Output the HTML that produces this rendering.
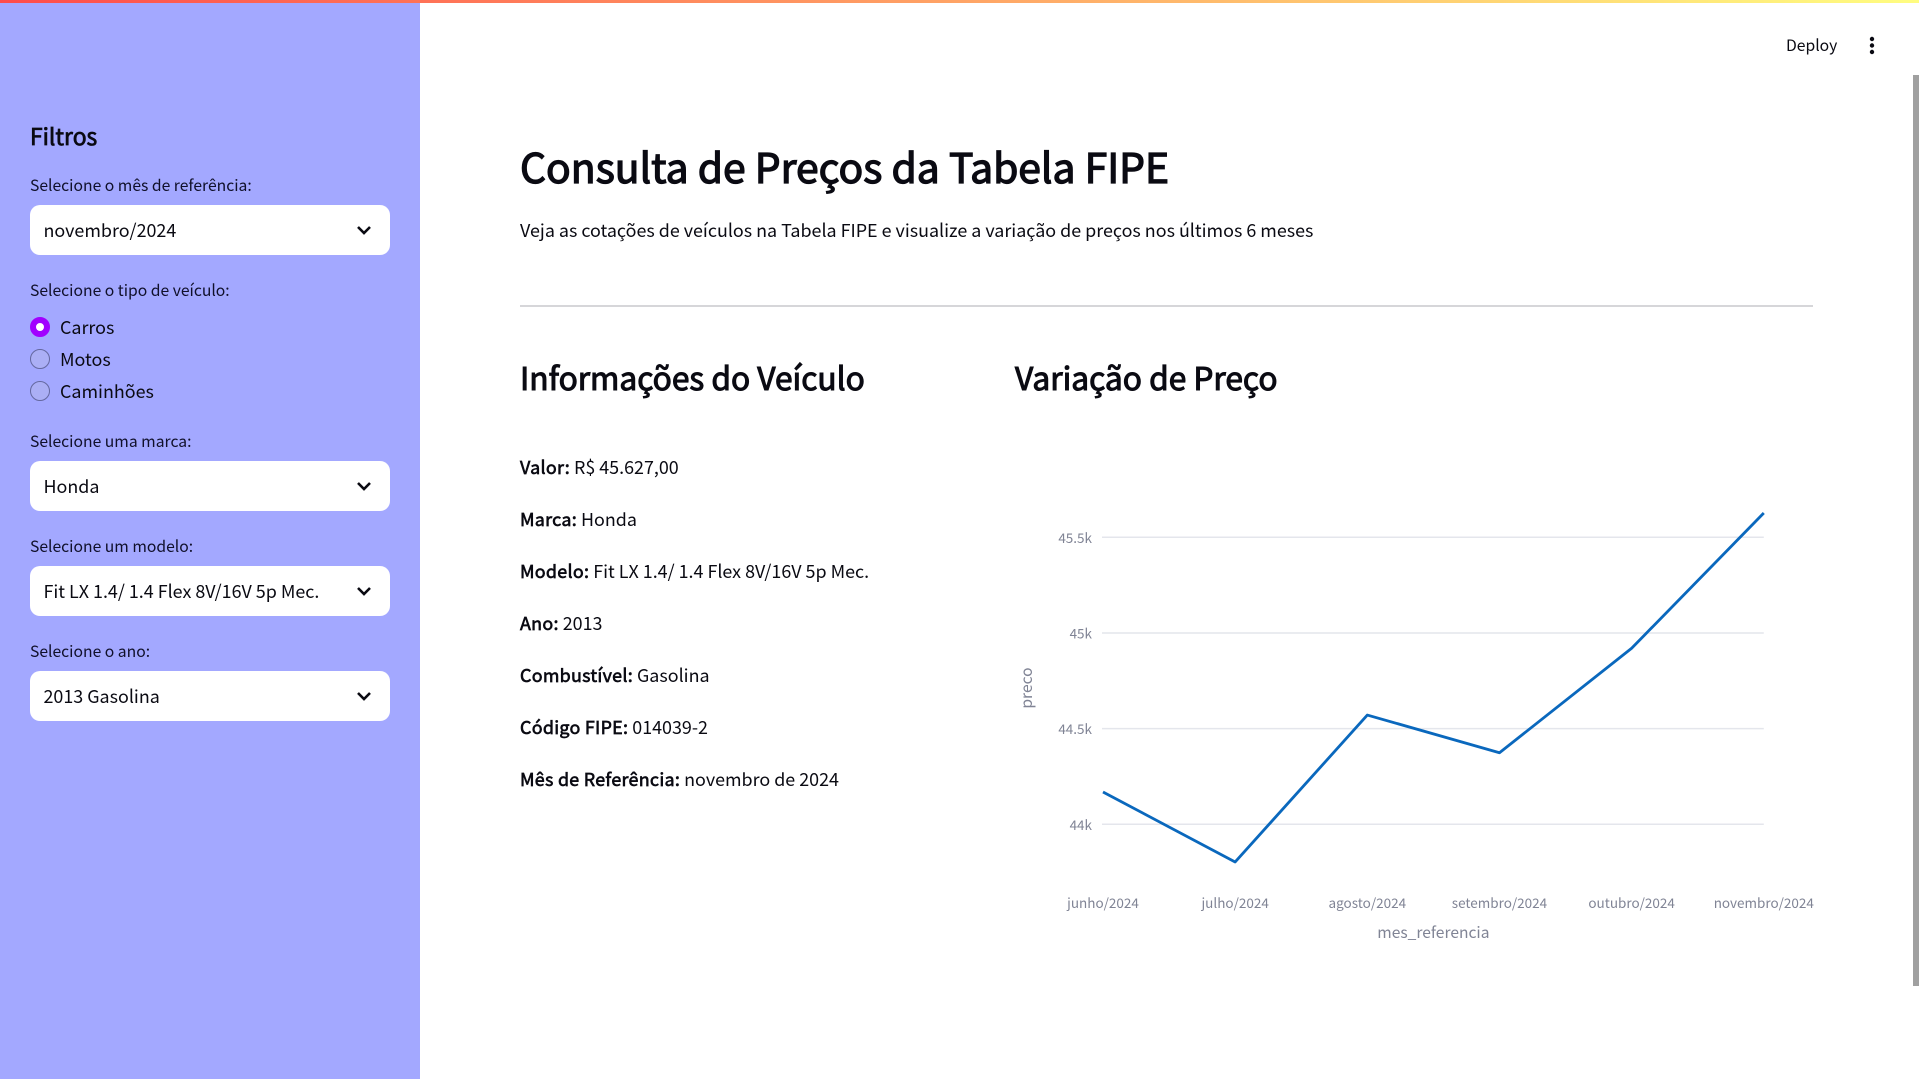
<!DOCTYPE html>
<html lang="pt-BR">
<head>
<meta charset="utf-8">
<title>Consulta de Preços da Tabela FIPE</title>
<style>
html,body{margin:0;padding:0;width:1919px;height:1079px;overflow:hidden;background:#fff;}
body{position:relative;font-family:"Noto Sans CJK JP","Liberation Sans",sans-serif;color:#0a0a12;}
.t{position:absolute;white-space:nowrap;line-height:30px;height:30px;}
#sidebar{position:absolute;left:0;top:0;width:420px;height:1079px;background:#a3a8ff;}
#topbar{position:absolute;left:0;top:0;width:1919px;height:3px;background:linear-gradient(90deg,#ff4b4b,#fffd80);z-index:3;}
.lab{left:30px;font-size:15.7px;color:#10102a;}
.sel{position:absolute;left:30px;width:360px;height:50px;background:#fff;border-radius:10px;}
.sel .t{left:13.5px;top:10px;font-size:17.9px;}
.sel svg{position:absolute;left:326px;top:20px;}
.radio{position:absolute;left:30px;width:20px;height:20px;border-radius:50%;box-sizing:border-box;border:1.5px solid #64689f;background:#abaff5;}
.radio.on{border:6px solid #a100ff;background:#fff;}
.rl{left:60px;font-size:17.9px;}
.info{left:520px;font-size:17.9px;}
.info b{font-weight:400;-webkit-text-stroke:0.65px #0a0a12;letter-spacing:0.28px;}
h1,h2{margin:0;font-weight:400;}
#chart{position:absolute;left:0;top:0;}
#scroll{position:absolute;left:1913px;top:75px;width:6px;height:911px;background:#a0a0a0;}
</style>
</head>
<body>
<div id="topbar"></div>

<aside id="sidebar">
  <div class="t" style="left:30px;top:120px;font-size:22.9px;-webkit-text-stroke:0.75px #0a0a12;">Filtros</div>

  <div class="t lab" style="top:169.5px;">Selecione o mês de referência:</div>
  <div class="sel" style="top:205px;">
    <span class="t">novembro/2024</span>
    <svg width="16" height="10" viewBox="0 0 16 10"><polyline points="2,2 8,8 14,2" fill="none" stroke="#0a0a12" stroke-width="2.6"/></svg>
  </div>

  <div class="t lab" style="top:274.5px;">Selecione o tipo de veículo:</div>
  <div class="radio on" style="top:317px;"></div>
  <div class="t rl" style="top:312px;">Carros</div>
  <div class="radio" style="top:349px;"></div>
  <div class="t rl" style="top:344px;">Motos</div>
  <div class="radio" style="top:381px;"></div>
  <div class="t rl" style="top:376px;">Caminhões</div>

  <div class="t lab" style="top:425.5px;">Selecione uma marca:</div>
  <div class="sel" style="top:461px;">
    <span class="t">Honda</span>
    <svg width="16" height="10" viewBox="0 0 16 10"><polyline points="2,2 8,8 14,2" fill="none" stroke="#0a0a12" stroke-width="2.6"/></svg>
  </div>

  <div class="t lab" style="top:530.5px;">Selecione um modelo:</div>
  <div class="sel" style="top:566px;">
    <span class="t">Fit LX 1.4/ 1.4 Flex 8V/16V 5p Mec.</span>
    <svg width="16" height="10" viewBox="0 0 16 10"><polyline points="2,2 8,8 14,2" fill="none" stroke="#0a0a12" stroke-width="2.6"/></svg>
  </div>

  <div class="t lab" style="top:635.5px;">Selecione o ano:</div>
  <div class="sel" style="top:671px;">
    <span class="t">2013 Gasolina</span>
    <svg width="16" height="10" viewBox="0 0 16 10"><polyline points="2,2 8,8 14,2" fill="none" stroke="#0a0a12" stroke-width="2.6"/></svg>
  </div>
</aside>

<div class="t" style="left:1786px;top:30px;font-size:15.7px;">Deploy</div>
<svg style="position:absolute;left:1867px;top:34px;" width="10" height="24" viewBox="0 0 10 24">
  <circle cx="5" cy="5" r="2.2" fill="#0a0a12"/><circle cx="5" cy="11.5" r="2.2" fill="#0a0a12"/><circle cx="5" cy="18" r="2.2" fill="#0a0a12"/>
</svg>

<h1 class="t" style="left:520px;top:150.5px;font-size:40.85px;-webkit-text-stroke:1.3px #0a0a12;">Consulta de Preços da Tabela FIPE</h1>
<div class="t" style="left:520px;top:215px;font-size:17.9px;">Veja as cotações de veículos na Tabela FIPE e visualize a variação de preços nos últimos 6 meses</div>
<div style="position:absolute;left:520px;top:305px;width:1293px;height:1.5px;background:#d6d6d9;"></div>

<h2 class="t" style="left:520px;top:362px;font-size:31.7px;-webkit-text-stroke:1.05px #0a0a12;">Informações do Veículo</h2>
<h2 class="t" style="left:1015px;top:362px;font-size:31.7px;-webkit-text-stroke:1.05px #0a0a12;">Variação de Preço</h2>

<div class="t info" style="top:452px;"><b>Valor:</b> R$ 45.627,00</div>
<div class="t info" style="top:504px;"><b>Marca:</b> Honda</div>
<div class="t info" style="top:556px;"><b>Modelo:</b> Fit LX 1.4/ 1.4 Flex 8V/16V 5p Mec.</div>
<div class="t info" style="top:608px;"><b>Ano:</b> 2013</div>
<div class="t info" style="top:660px;"><b>Combustível:</b> Gasolina</div>
<div class="t info" style="top:712px;"><b>Código FIPE:</b> 014039-2</div>
<div class="t info" style="top:764px;"><b>Mês de Referência:</b> novembro de 2024</div>

<svg id="chart" width="1919" height="1079"></svg>

<div id="scroll"></div>

<script>
const categories = ["junho/2024","julho/2024","agosto/2024","setembro/2024","outubro/2024","novembro/2024"];
const precos = [44169, 43803, 44571, 44374, 44920, 45627];
const yTicks = [44000, 44500, 45000, 45500];
const yTickLabels = ["44k","44.5k","45k","45.5k"];
const xAxisTitle = "mes_referencia";
const yAxisTitle = "preco";

const svgNS = "http://www.w3.org/2000/svg";
const chart = document.getElementById("chart");
const FONT = '"Noto Sans CJK JP","Liberation Sans",sans-serif';

function xScale(i){ return 1103 + i * (1763.8 - 1103) / (categories.length - 1); }
function yScale(v){ return 824.3 - (v - 44000) * (824.3 - 537.3) / 1500; }
function mk(tag, attrs){
  const el = document.createElementNS(svgNS, tag);
  for (const k in attrs) el.setAttribute(k, attrs[k]);
  return el;
}

yTicks.forEach(function(v, i){
  const grid = mk("line", {x1:xScale(0)-1, x2:xScale(categories.length-1), y1:yScale(v), y2:yScale(v), stroke:"#e4e6ec", "stroke-width":1.5});
  
  
  chart.appendChild(grid);
  const lab = mk("text", {x:xScale(0)-11, y:yScale(v)+5.5, "text-anchor":"end", "font-size":13.5, fill:"#808495", "font-family":FONT});
  
  
  lab.textContent = yTickLabels[i];
  chart.appendChild(lab);
});

categories.forEach(function(c, i){
  const lab = mk("text", {x:xScale(i), y:908, "text-anchor":"middle", "font-size":13.5, fill:"#808495", "font-family":FONT});
  
  
  lab.textContent = c;
  chart.appendChild(lab);
});

const pts = precos.map(function(v, i){ return xScale(i) + "," + yScale(v); }).join(" ");
const series = mk("polyline", {points:pts, fill:"none", stroke:"#0a68bd", "stroke-width":2.8, "stroke-linejoin":"round"});


chart.appendChild(series);

const xt = mk("text", {x:(xScale(0)+xScale(categories.length-1))/2, y:938, "text-anchor":"middle", "font-size":15.6, fill:"#808495", "font-family":FONT});


xt.textContent = xAxisTitle;
chart.appendChild(xt);

const yt = mk("text", {x:0, y:0, transform:"translate(1032,688) rotate(-90)", "text-anchor":"middle", "font-size":15.6, fill:"#808495", "font-family":FONT});


yt.textContent = yAxisTitle;
chart.appendChild(yt);
</script>
</body>
</html>
